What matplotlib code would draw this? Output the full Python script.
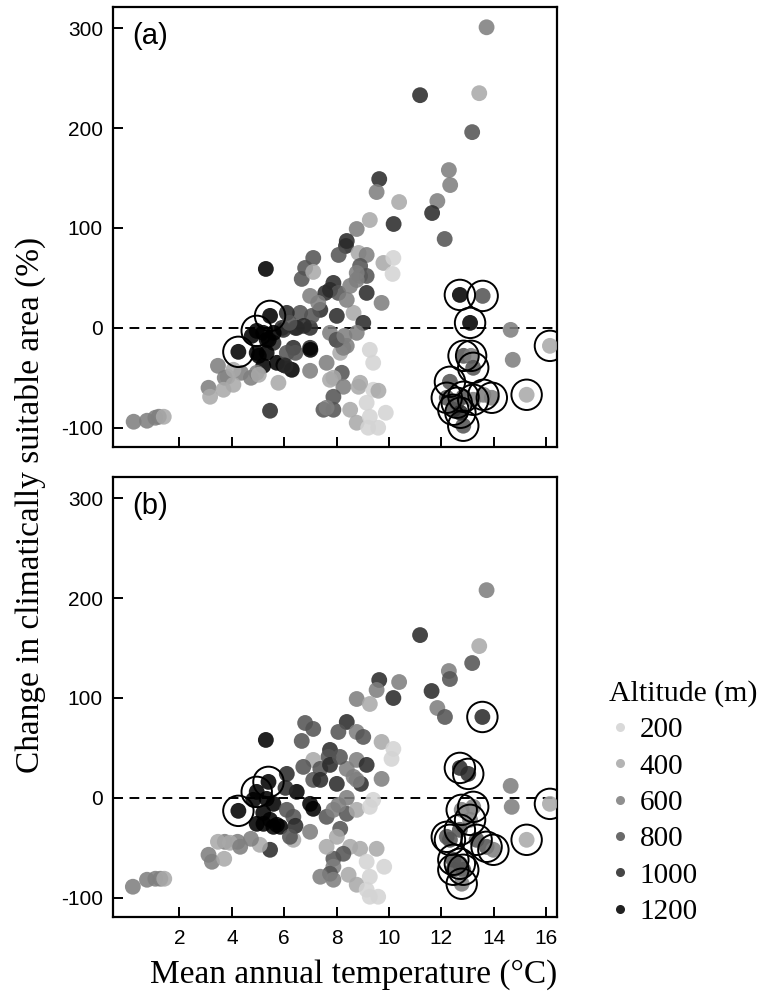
import matplotlib
matplotlib.use("Agg")
import matplotlib.pyplot as plt
from matplotlib.lines import Line2D
from matplotlib.colors import Normalize
import numpy as np

# ---------------- data: panel (a) ----------------
temp_a = [13.73, 11.19, 13.45, 13.18, 12.29, 12.34, 11.85, 11.65, 12.13, 9.63,
          9.53, 10.39, 10.18, 9.27, 8.77, 8.39, 8.36, 8.08, 8.84, 9.15,
          9.79, 10.17, 10.14, 7.11, 6.80, 6.67, 7.11, 5.30, 8.90, 8.90,
          9.15, 8.77, 9.15, 9.72, 7.75, 7.88, 8.07, 6.99, 7.38, 8.01,
          8.52, 8.65, 9.02, 8.77, 6.61, 6.10, 6.48, 6.99, 5.97, 4.76,
          5.20, 5.33, 5.59, 4.95, 5.33, 5.72, 5.20, 5.97, 6.29, 6.35,
          6.10, 6.99, 6.99, 7.62, 8.01, 8.39, 8.14, 7.75, 9.27, 9.40,
          8.20, 7.88, 8.26, 8.84, 9.40, 9.60, 7.88, 7.50, 7.88, 7.62,
          8.52, 8.77, 9.15, 9.27, 9.21, 9.59, 9.88, 5.46, 5.78, 4.73,
          4.35, 3.84, 3.47, 3.73, 3.11, 3.17, 3.68, 4.06, 4.95, 0.25,
          0.76, 1.08, 1.21, 1.40, 7.57, 7.06, 6.43, 6.75, 5.92, 5.41,
          5.03, 6.05, 6.43, 7.00, 5.03, 8.26, 8.00, 8.90, 14.65, 14.73,
          8.77, 8.39, 8.30, 7.75, 4.06, 5.60, 6.20, 7.30]
change_a = [301, 233, 235, 196, 158, 143, 127, 115, 89, 149,
            136, 126, 104, 108, 99, 87, 82, 73, 75, 73,
            65, 70, 54, 70, 60, 49, 56, 59, 62, 52,
            52, 55, 35, 25, 38, 45, 35, 32, 18, 12,
            42, 15, 5, -5, 15, 15, 0, 0, -2, -8,
            -5, -12, -15, -25, -25, -35, -38, -37, -42, -20,
            -25, -20, -43, -35, -12, -18, -25, -5, -22, -35,
            -45, -50, -59, -59, -62, -63, -69, -82, -82, -80,
            -82, -95, -75, -89, -100, -100, -85, -83, -55, -50,
            -45, -49, -38, -50, -60, -69, -62, -57, -45, -94,
            -93, -90, -89, -89, 35, 12, 0, 2, 0, -12,
            -28, -38, -25, -22, -47, -20, -12, -55, -2, -32,
            48, 28, -8, -52, -42, -5, 5, 25]
alt_a = [600, 1000, 400, 800, 600, 600, 600, 1000, 800, 1000,
         600, 400, 1000, 400, 600, 1000, 1000, 800, 400, 600,
         400, 200, 200, 800, 800, 800, 400, 1200, 800, 600,
         800, 600, 1000, 600, 1000, 1000, 800, 600, 1000, 1000,
         600, 400, 1000, 600, 800, 1000, 1000, 1000, 1000, 1200,
         1200, 1200, 1000, 1200, 1200, 1200, 1200, 1200, 1200, 1000,
         800, 1000, 600, 600, 800, 600, 400, 600, 200, 200,
         800, 400, 600, 400, 200, 400, 800, 800, 800, 600,
         400, 400, 200, 200, 200, 200, 200, 1000, 400, 600,
         600, 400, 600, 600, 600, 400, 400, 400, 600, 600,
         600, 600, 600, 400, 1000, 800, 1000, 1000, 1000, 1200,
         1200, 1000, 800, 1200, 400, 600, 800, 400, 600, 600,
         600, 600, 600, 400, 400, 1200, 800, 600]
# ringed sites, panel (a)
ring_temp_a = [5.46, 4.95, 4.25, 12.71, 13.58, 13.10, 12.85, 13.14, 13.22, 12.33,
               12.21, 12.59, 12.85, 13.22, 13.61, 13.93, 12.46, 12.84, 12.73, 15.26,
               16.15]
ring_change_a = [12, -3, -24, 33, 32, 5, -28, -28, -40, -54,
                 -70, -75, -69, -72, -67, -70, -82, -98, -85, -67,
                 -18]
ring_alt_a = [1200, 1200, 1200, 1200, 800, 1200, 800, 600, 800, 800,
              800, 800, 800, 600, 600, 600, 800, 800, 1000, 400,
              400]

# ---------------- data: panel (b) ----------------
temp_b = [13.73, 11.19, 13.45, 13.18, 12.29, 12.33, 11.63, 11.85, 12.14, 9.63,
          9.53, 10.39, 10.17, 8.77, 9.27, 6.80, 7.11, 8.39, 8.07, 8.77,
          9.02, 6.67, 5.30, 9.72, 10.17, 10.10, 7.75, 7.69, 8.77, 9.15,
          7.11, 6.73, 7.38, 7.75, 8.39, 8.65, 9.72, 7.11, 7.38, 8.01,
          8.93, 6.10, 6.48, 4.82, 5.33, 5.59, 6.99, 7.11, 6.10, 6.35,
          4.95, 5.46, 5.85, 5.59, 7.62, 7.88, 8.39, 8.77, 9.27, 9.40,
          8.14, 8.01, 6.99, 6.35, 5.46, 5.07, 4.73, 4.22, 3.73, 3.47,
          3.11, 3.24, 3.71, 8.52, 8.90, 9.53, 8.26, 7.88, 7.88, 7.75,
          7.38, 7.88, 8.46, 8.77, 9.15, 9.27, 9.82, 9.15, 9.59, 9.27,
          0.22, 0.76, 1.08, 1.27, 1.42, 14.65, 14.69, 5.20, 6.05, 6.43,
          8.13, 8.77, 6.22, 8.07, 8.39, 7.62, 5.72, 5.21, 3.93, 4.32]
change_b = [208, 163, 152, 135, 127, 119, 107, 90, 81, 118,
            108, 116, 100, 99, 94, 75, 69, 76, 66, 66,
            61, 57, 58, 56, 49, 39, 48, 41, 38, 33,
            38, 31, 29, 33, 29, 21, 19, 18, 18, 14,
            14, 24, 6, -2, -1, -6, -6, -11, -12, -19,
            -26, -22, -29, -29, -19, -12, -16, -12, -9, -2,
            -31, -39, -34, -42, -52, -47, -41, -44, -44, -44,
            -57, -64, -61, -49, -51, -51, -56, -61, -69, -76,
            -79, -82, -77, -87, -64, -79, -69, -92, -99, -99,
            -89, -82, -81, -81, -81, 12, -9, -15, 10, -28,
            41, 18, -39, -7, 0, -49, -27, -26, -45, -49]
alt_b = [600, 1000, 400, 800, 600, 800, 1000, 600, 800, 1000,
         600, 600, 1000, 600, 400, 800, 800, 1000, 800, 600,
         800, 800, 1200, 400, 200, 200, 1000, 800, 600, 1000,
         400, 800, 800, 1000, 600, 600, 600, 800, 1000, 1000,
         1000, 1000, 1200, 1200, 1200, 1200, 1200, 1200, 800, 800,
         1200, 1200, 1200, 1200, 800, 600, 800, 400, 200, 200,
         800, 400, 600, 400, 1000, 400, 600, 600, 600, 400,
         600, 600, 400, 400, 400, 400, 800, 800, 600, 800,
         600, 600, 400, 400, 200, 200, 200, 200, 200, 200,
         600, 600, 600, 600, 400, 600, 600, 1200, 1000, 1000,
         800, 600, 800, 600, 600, 400, 1200, 1200, 400, 600]
# ringed sites, panel (b)
ring_temp_b = [5.40, 4.95, 4.25, 13.57, 12.71, 13.03, 12.78, 13.22, 13.10, 12.21,
               12.33, 12.71, 13.35, 13.73, 13.99, 12.46, 12.71, 12.84, 12.78, 12.46,
               15.26, 16.15]
ring_change_b = [16, 6, -13, 81, 30, 24, -12, -9, -22, -39,
                 -42, -32, -42, -49, -52, -62, -66, -72, -86, -72,
                 -42, -6]
ring_alt_b = [1200, 1200, 1200, 1000, 1000, 1000, 600, 600, 600, 800,
              800, 800, 800, 800, 600, 800, 800, 800, 600, 800,
              400, 400]

legend_alts = [200, 400, 600, 800, 1000, 1200]
panel_labels = ["(a)", "(b)"]
x_ticks = [2, 4, 6, 8, 10, 12, 14, 16]
y_ticks = [-100, 0, 100, 200, 300]

# ---------------- style ----------------
W, H = 759, 994
fig = plt.figure(figsize=(W / 100, H / 100), dpi=100)
cmap = plt.get_cmap("gray_r")
norm = Normalize(vmin=-5, vmax=1200)
ALPHA = 0.87
SANS = ["Liberation Sans", "DejaVu Sans"]
SERIF = ["Liberation Serif", "DejaVu Serif"]

def fx(px):
    return px / W

def fy(py):
    return (H - py) / H

boxes = [(112.7, 7.3, 557, 446.7), (112.7, 477.3, 557, 916.7)]
panels = [
    (temp_a, change_a, alt_a, ring_temp_a, ring_change_a, ring_alt_a),
    (temp_b, change_b, alt_b, ring_temp_b, ring_change_b, ring_alt_b),
]

for i, (box, data) in enumerate(zip(boxes, panels)):
    l, t, r, b = box
    ax = fig.add_axes([fx(l), fy(b), fx(r) - fx(l), fy(t) - fy(b)])
    tx, cy, al, rtx, rcy, ral = data
    ax.axhline(0, color="black", lw=1.4, ls=(0, (5, 3.5)), zorder=1)
    ax.scatter(tx, cy, s=130, c=cmap(norm(np.array(al))), alpha=ALPHA,
               edgecolors="none", zorder=2)
    ax.scatter(rtx, rcy, s=130, c=cmap(norm(np.array(ral))), alpha=ALPHA,
               edgecolors="none", zorder=3)
    ax.scatter(rtx, rcy, s=480, facecolors="none", edgecolors="black",
               linewidths=1.4, zorder=4)
    ax.set_xlim(-0.55, 16.42)
    ax.set_ylim(-119, 321)
    ax.set_xticks(x_ticks)
    ax.set_yticks(y_ticks)
    if i == 1:
        ax.set_xticklabels([str(v) for v in x_ticks], family=SANS, fontsize=15)
    else:
        ax.set_xticklabels([])
    ax.set_yticklabels([str(v) for v in y_ticks], family=SANS, fontsize=15)
    ax.tick_params(direction="in", length=7.5, width=1.4, pad=7, colors="black")
    ax.tick_params(axis="x", pad=9)
    for sp in ax.spines.values():
        sp.set_linewidth(1.6)
    ax.text(0.045, 0.935, panel_labels[i], transform=ax.transAxes,
            family=SANS, fontsize=21, ha="left", va="center")

fig.text(fx(354), fy(983), "Mean annual temperature (°C)", family=SERIF,
         fontsize=24, ha="center", va="baseline")
fig.text(fx(30), fy(505), "Change in climatically suitable area (%)",
         family=SERIF, fontsize=24, rotation=90, ha="center", va="center")

handles = [Line2D([], [], ls="none", marker="o", markersize=6.5,
                  markerfacecolor=cmap(norm(a)), markeredgecolor="none",
                  alpha=ALPHA) for a in legend_alts]
leg = fig.legend(handles, [str(a) for a in legend_alts], loc="upper left",
                 bbox_to_anchor=(fx(609), fy(680)), frameon=False,
                 title="Altitude (m)", alignment="left",
                 prop={"family": SERIF, "size": 21},
                 title_fontproperties={"family": SERIF, "size": 21.5},
                 handlelength=0.75, handletextpad=0.3, labelspacing=0.34,
                 borderpad=0, borderaxespad=0)

fig.savefig("out.png", dpi=100)
